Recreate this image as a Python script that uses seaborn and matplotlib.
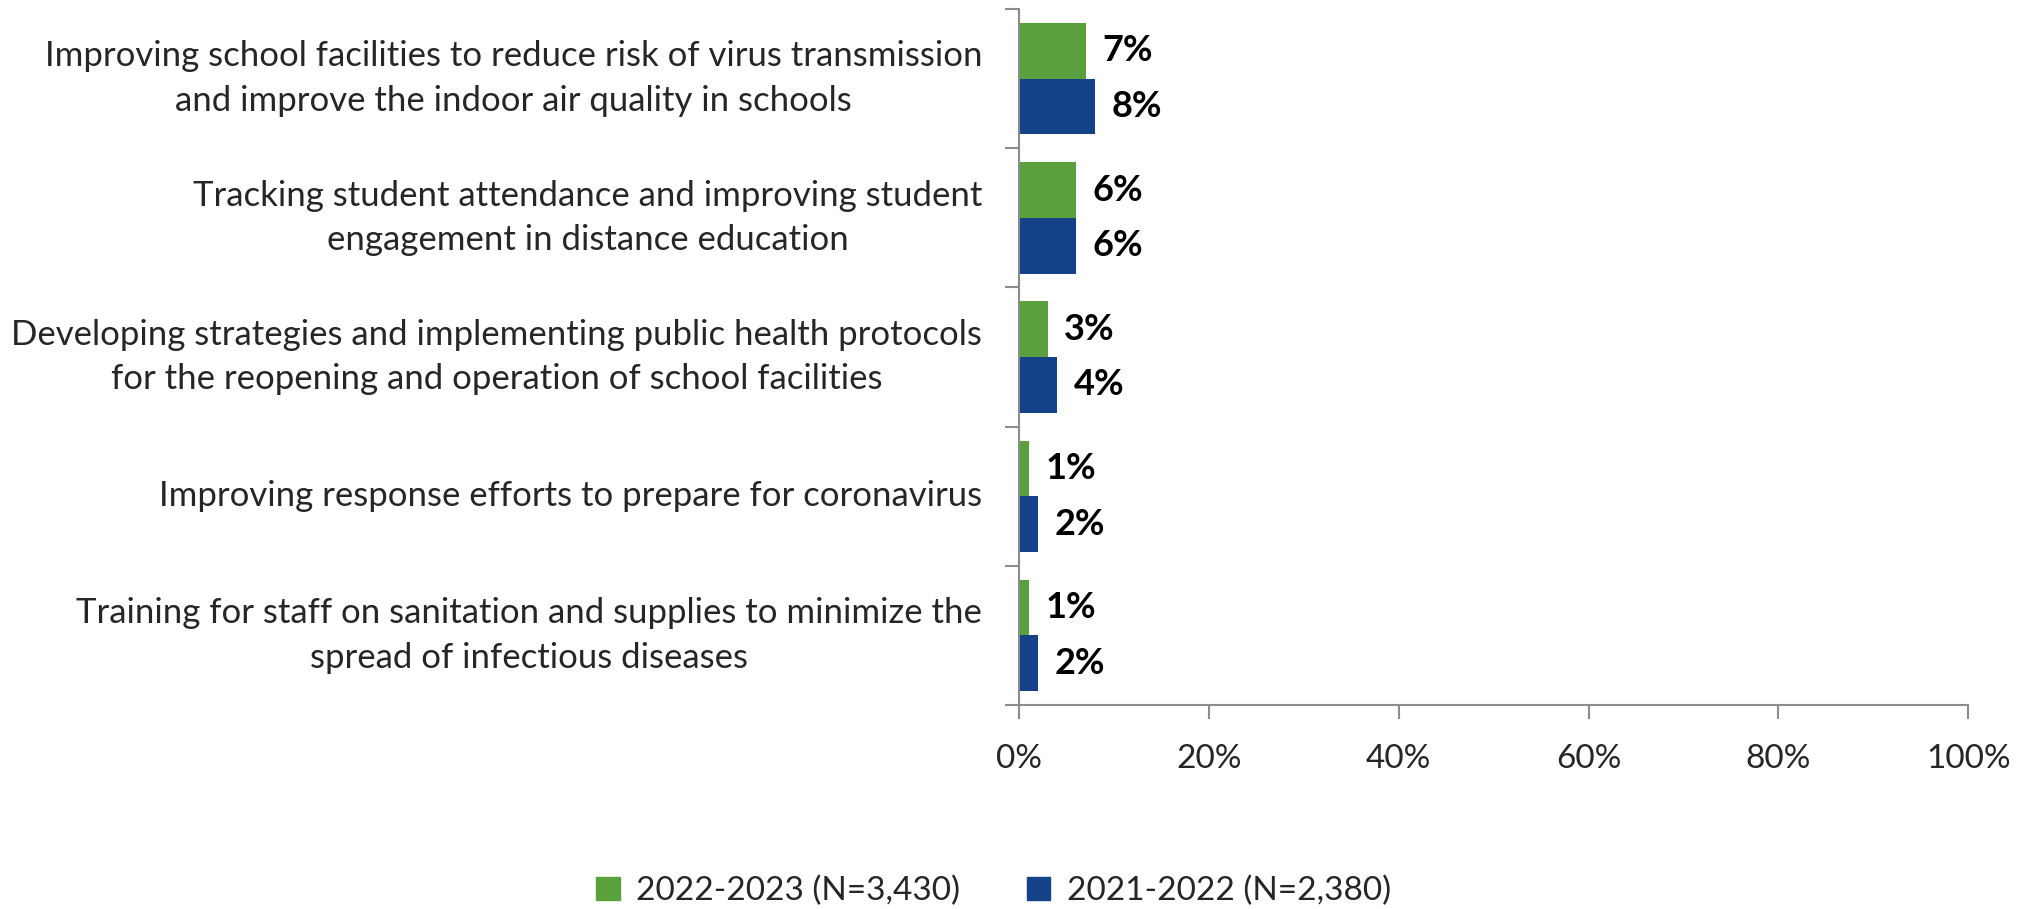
import matplotlib
matplotlib.use("Agg")
import matplotlib.pyplot as plt
import seaborn as sns
import pandas as pd
import numpy as np
from matplotlib.ticker import FixedLocator, FuncFormatter

categories = [
    "Improving school facilities to reduce risk of virus transmission\nand improve the indoor air quality in schools",
    "Tracking student attendance and improving student\nengagement in distance education",
    "Developing strategies and implementing public health protocols\nfor the reopening and operation of school facilities",
    "Improving response efforts to prepare for coronavirus",
    "Training for staff on sanitation and supplies to minimize the\nspread of infectious diseases",
]
series_names = ["2022-2023 (N=3,430)", "2021-2022 (N=2,380)"]
values_2223 = [7, 6, 3, 1, 1]
values_2122 = [8, 6, 4, 2, 2]
x_ticks = [0, 20, 40, 60, 80, 100]

colors = ["#5AA03C", "#134288"]

df = pd.DataFrame({
    "category": categories * 2,
    "value": values_2223 + values_2122,
    "series": [series_names[0]] * len(categories) + [series_names[1]] * len(categories),
})

sns.set_theme(style="white")
plt.rcParams["font.family"] = ["Lato", "DejaVu Sans"]

fig = plt.figure(figsize=(20.28, 9.09), dpi=100)
ax = fig.add_axes([0.5025, 0.2244, 0.468, 0.7656])

sns.barplot(data=df, y="category", x="value", hue="series", order=categories,
            hue_order=series_names, palette=colors, width=0.80, orient="h",
            saturation=1, ax=ax, edgecolor="none")

for cont in ax.containers:
    ax.bar_label(cont, labels=[f"{v:.0f}%" for v in cont.datavalues], padding=12,
                 fontsize=26, fontweight="bold", color="black")

ax.set_xlim(0, 100)
ax.set_ylim(len(categories) - 0.5, -0.5)
ax.xaxis.set_major_locator(FixedLocator(x_ticks))
ax.xaxis.set_major_formatter(FuncFormatter(lambda v, p: f"{v:.0f}%"))
ax.set_xlabel("")
ax.set_ylabel("")

ax.yaxis.set_minor_locator(FixedLocator(np.arange(-0.5, len(categories), 1)))
ax.tick_params(axis="y", which="major", left=False, length=0, pad=26.5, labelsize=25)
ax.tick_params(axis="y", which="minor", left=True, length=10, width=1.5, color="#8C8C8C", direction="out")
ax.tick_params(axis="x", which="major", bottom=True, length=10, width=1.5, color="#8C8C8C",
               direction="out", labelsize=24, pad=18)
for lab in ax.get_yticklabels():
    lab.set_horizontalalignment("right")
    lab.set_verticalalignment("center")
    lab.set_multialignment("center")
    lab.set_linespacing(1.48)

for s in ["top", "right"]:
    ax.spines[s].set_visible(False)
for s in ["left", "bottom"]:
    ax.spines[s].set_color("#8C8C8C")
    ax.spines[s].set_linewidth(1.5)

ax.legend_.remove()
handles = [plt.Rectangle((0, 0), 1, 1, color=c) for c in colors]
fig.legend(handles, series_names, loc="center", bbox_to_anchor=(0.49, 0.02),
           ncol=2, frameon=False, fontsize=24, handlelength=0.7, handleheight=0.7,
           columnspacing=2.0, handletextpad=0.5)

fig.savefig("out.png", dpi=100)
